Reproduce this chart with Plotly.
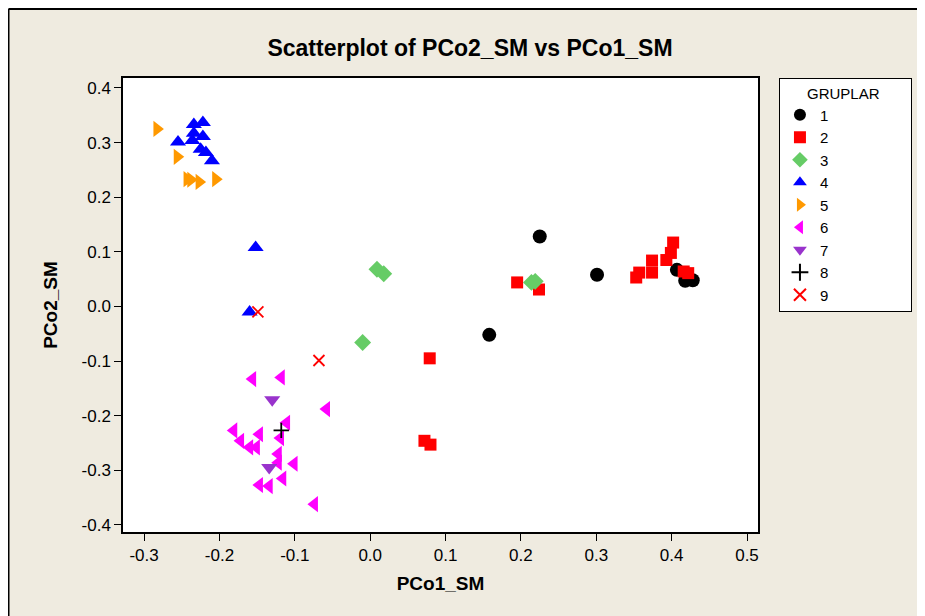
import plotly.graph_objects as go

groups = ["1", "2", "3", "4", "5", "6", "7", "8", "9"]

g1_x = [0.225, 0.301, 0.158, 0.407, 0.418, 0.428]
g1_y = [0.128, 0.058, -0.052, 0.067, 0.047, 0.048]

g2_x = [0.402, 0.399, 0.393, 0.374, 0.374, 0.357, 0.353, 0.416, 0.422, 0.195, 0.224, 0.079, 0.072, 0.080]
g2_y = [0.117, 0.098, 0.085, 0.084, 0.062, 0.062, 0.053, 0.064, 0.061, 0.044, 0.031, -0.095, -0.246, -0.253]

g3_x = [0.009, 0.018, -0.010, 0.214, 0.219]
g3_y = [0.068, 0.060, -0.066, 0.044, 0.046]

g4_x = [-0.255, -0.234, -0.222, -0.234, -0.222, -0.236, -0.225, -0.218, -0.210, -0.152, -0.160]
g4_y = [0.301, 0.333, 0.337, 0.317, 0.311, 0.304, 0.288, 0.282, 0.267, 0.108, -0.010]

g5_x = [-0.283, -0.256, -0.243, -0.238, -0.227, -0.205]
g5_y = [0.325, 0.274, 0.233, 0.232, 0.228, 0.233]

g6_x = [-0.156, -0.118, -0.058, -0.111, -0.181, -0.147, -0.119, -0.172, -0.160, -0.151,
        -0.122, -0.122, -0.101, -0.116, -0.147, -0.134, -0.074]
g6_y = [-0.133, -0.130, -0.188, -0.213, -0.227, -0.234, -0.241, -0.246, -0.258, -0.258,
        -0.270, -0.286, -0.288, -0.315, -0.327, -0.329, -0.362]

g7_x = [-0.130, -0.134]
g7_y = [-0.171, -0.295]

g8_x = [-0.118]
g8_y = [-0.227]

g9_x = [-0.149, -0.068]
g9_y = [-0.010, -0.099]

x_ticks = [-0.3, -0.2, -0.1, 0.0, 0.1, 0.2, 0.3, 0.4, 0.5]
y_ticks = [-0.4, -0.3, -0.2, -0.1, 0.0, 0.1, 0.2, 0.3, 0.4]

xs = [g1_x, g2_x, g3_x, g4_x, g5_x, g6_x, g7_x, g8_x, g9_x]
ys = [g1_y, g2_y, g3_y, g4_y, g5_y, g6_y, g7_y, g8_y, g9_y]

colors = ["#000000", "#FF0000", "#66CC66", "#0000FF", "#FF9900", "#FF00FF", "#9933CC", "#000000", "#FF0000"]
symbols = ["circle", "square", "diamond", "triangle-up", "triangle-right", "triangle-left",
           "triangle-down", "cross-thin", "x-thin"]
sizes = [14, 12, 13, 14, 14, 14, 14, 11, 11]

fig = go.Figure()
for i, g in enumerate(groups):
    thin = symbols[i] in ("cross-thin", "x-thin")
    fig.add_trace(go.Scatter(
        x=xs[i], y=ys[i], mode="markers", name=g, legendgroup=g,
        marker=dict(symbol=symbols[i], size=sizes[i], color=colors[i],
                    line=dict(width=1.8 if thin else 0, color=colors[i])),
    ))

bg = "#EFEBE0"
font_fam = "Liberation Sans, Arial, sans-serif"

# page offset of the figure (body margin) is ~8px
L, R, T, B = 115, 175, 70, 92
W, H = 925, 616

fig.update_layout(
    width=W, height=H,
    paper_bgcolor=bg, plot_bgcolor="white",
    margin=dict(l=L, r=R, t=T, b=B),
    font=dict(family=font_fam, color="black", size=15),
    title=dict(text="<b>Scatterplot of PCo2_SM vs PCo1_SM</b>", x=462 / W, xanchor="center",
               y=1 - 40 / H, yanchor="middle",
               font=dict(family=font_fam, size=23, color="black")),
    showlegend=True,
    legend=dict(x=1.033, y=1.0, xanchor="left", yanchor="top",
                bgcolor="white", bordercolor="black", borderwidth=1,
                title=dict(text="&nbsp;&nbsp;&nbsp;&nbsp;&nbsp;&nbsp;GRUPLAR&nbsp;&nbsp;&nbsp;&nbsp;&nbsp;&nbsp;&nbsp;",
                           font=dict(size=15, family=font_fam)),
                font=dict(size=15, family=font_fam),
                tracegroupgap=0, itemsizing="constant"),
    xaxis=dict(range=[-0.328, 0.5146], tickvals=x_ticks,
               ticktext=["%.1f" % v for v in x_ticks],
               showgrid=False, zeroline=False, showline=True, linecolor="black", linewidth=1.5,
               mirror=True, ticks="outside", ticklen=7, tickcolor="black",
               tickfont=dict(size=17, family=font_fam),
               title=dict(text="<b>PCo1_SM</b>", font=dict(size=19, family=font_fam), standoff=13)),
    yaxis=dict(range=[-0.413, 0.4183], tickvals=y_ticks,
               ticktext=["%.1f" % v for v in y_ticks],
               showgrid=False, zeroline=False, showline=True, linecolor="black", linewidth=1.5,
               mirror=True, ticks="outside", ticklen=7, tickcolor="black",
               tickfont=dict(size=17, family=font_fam),
               title=dict(text="<b>PCo2_SM</b>", font=dict(size=19, family=font_fam), standoff=19)),
)

# outer frame lines (top and left) in paper coordinates
pw, ph = W - L - R, H - T - B
def px(x):
    return (x - L) / pw
def py(y):
    return (H - B - y) / ph

fig.add_shape(type="line", xref="paper", yref="paper", x0=px(0.5), x1=px(W), y0=py(1), y1=py(1),
              line=dict(color="black", width=2))
fig.add_shape(type="line", xref="paper", yref="paper", x0=px(0.5), x1=px(0.5), y0=py(1), y1=py(H),
              line=dict(color="black", width=2))

fig.write_html("out.html")
